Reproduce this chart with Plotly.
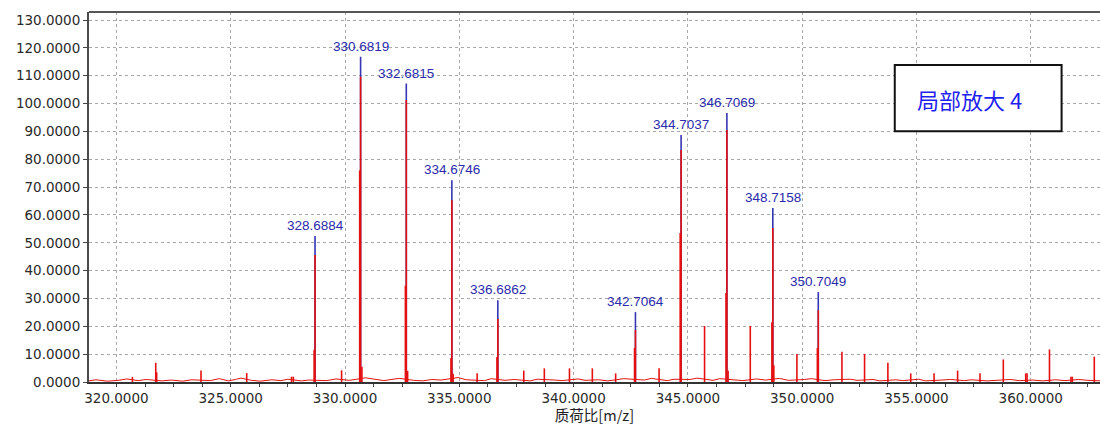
import plotly.graph_objects as go

# Labelled centroid peaks: m/z, centroid intensity, profile apex, left shoulder
peak_mz = [328.6884, 330.6819, 332.6815, 334.6746, 336.6862,
           342.7064, 344.7037, 346.7069, 348.7158, 350.7049]
peak_centroid = [52.4, 116.8, 107.2, 72.5, 29.4, 25.1, 88.7, 96.6, 62.5, 32.3]
peak_apex = [45.6, 109.6, 101.3, 65.3, 22.6, 18.7, 83.3, 90.5, 55.3, 25.8]
peak_shoulder = [11.5, 76.0, 34.6, 8.6, 9.0, 12.2, 53.5, 32.0, 21.5, 12.2]

# Smaller unlabelled peaks
minor_mz = [320.70, 321.72, 321.76, 323.70, 325.70, 327.66, 327.74, 329.85,
            330.74, 332.74, 334.73, 335.78, 337.82, 338.72, 339.82, 340.82,
            341.84, 343.74, 345.73, 346.76, 347.73, 348.76, 349.77, 351.74,
            352.73, 353.75, 354.75, 355.77, 356.80, 357.78, 358.80, 359.78,
            359.84, 360.82, 361.76, 361.82, 362.78]
minor_int = [1.8, 6.9, 3.5, 4.1, 3.2, 1.9, 1.9, 4.2,
             5.5, 4.0, 3.0, 3.1, 4.1, 4.9, 4.9, 4.9,
             3.1, 4.9, 20.1, 4.0, 20.1, 6.0, 10.1, 10.9,
             10.1, 6.9, 3.1, 3.1, 4.1, 3.1, 8.1, 3.1,
             3.1, 11.7, 1.9, 1.9, 9.1]

# Low-level baseline noise
noise_mz = [318.8, 319.1, 319.6, 320.1, 320.45, 320.95, 321.3, 322.0, 322.4,
            322.9, 323.3, 324.1, 324.5, 324.9, 325.2, 325.45, 325.9, 326.3,
            326.8, 327.2, 327.5, 328.1, 328.4, 329.2, 329.6, 330.2, 330.9,
            331.3, 331.7, 332.1, 332.4, 333.0, 333.4, 333.8, 334.2, 334.95,
            335.3, 336.1, 336.4, 337.0, 337.4, 338.1, 338.4, 339.2, 339.5,
            340.2, 340.5, 341.1, 341.5, 342.2, 343.1, 343.4, 344.1, 344.4,
            345.1, 345.4, 346.1, 346.4, 347.1, 347.4, 348.0, 348.4, 349.0,
            349.4, 350.1, 350.4, 351.0, 351.4, 352.1, 352.4, 353.1, 353.4,
            354.1, 354.4, 355.1, 355.4, 356.1, 356.5, 357.1, 357.4, 358.1,
            358.5, 359.1, 359.5, 360.1, 360.5, 361.1, 361.5, 362.1, 362.5, 363.1]
noise_int = [0.4, 0.8, 0.3, 0.6, 1.1, 0.5, 0.9, 0.4, 0.7,
             0.3, 0.8, 0.5, 1.2, 0.4, 0.9, 1.4, 0.6, 0.3,
             0.8, 0.5, 1.0, 0.4, 0.7, 0.5, 1.1, 0.6, 1.5,
             0.9, 0.5, 1.0, 1.3, 0.6, 0.4, 0.9, 0.7, 1.6,
             0.8, 0.5, 1.2, 0.6, 0.9, 0.4, 1.0, 0.7, 0.5,
             1.1, 0.6, 0.8, 0.4, 1.2, 0.7, 1.3, 0.5, 1.0,
             0.9, 1.4, 0.6, 1.2, 0.8, 0.5, 1.1, 0.7, 1.3,
             0.6, 0.9, 1.2, 0.5, 0.8, 1.0, 0.6, 0.9, 0.4,
             0.8, 0.5, 1.0, 0.4, 0.7, 0.9, 0.5, 0.8, 0.4,
             0.6, 0.9, 0.5, 0.7, 0.4, 0.8, 0.5, 0.9, 0.6, 0.4]

y_ticks = [0, 10, 20, 30, 40, 50, 60, 70, 80, 90, 100, 110, 120, 130]
x_ticks = [320, 325, 330, 335, 340, 345, 350, 355, 360]

RED = "#e41010"
BLUE = "#3535b5"
LABEL_BLUE = "#2b2bab"
SHOULDER_OFFSET = 0.04


def sticks(xs, ys):
    """Vertical sticks from the baseline, separated by gaps."""
    sx, sy = [], []
    for x, y in zip(xs, ys):
        sx += [x, x, None]
        sy += [0, y, None]
    return sx, sy


fig = go.Figure()

# centroid sticks (blue), partly covered by the profile peaks
bx, by = sticks(peak_mz, peak_centroid)
fig.add_trace(go.Scatter(x=bx, y=by, mode="lines",
                         line=dict(color=BLUE, width=1.6),
                         hoverinfo="skip", showlegend=False))

# baseline noise
fig.add_trace(go.Scatter(x=noise_mz, y=noise_int, mode="lines",
                         line=dict(color=RED, width=1),
                         hoverinfo="skip", showlegend=False))

# profile peaks: apex plus left shoulder
rx, ry = sticks(peak_mz, peak_apex)
shx, shy = sticks([m - SHOULDER_OFFSET for m in peak_mz], peak_shoulder)
mx, my = sticks(minor_mz, minor_int)
fig.add_trace(go.Scatter(x=rx + shx + mx, y=ry + shy + my, mode="lines",
                         line=dict(color=RED, width=1.6),
                         hoverinfo="skip", showlegend=False))

for mz, h in zip(peak_mz, peak_centroid):
    fig.add_annotation(x=mz, y=h, text=f"{mz:.4f}", showarrow=False,
                       xanchor="center", yanchor="bottom", yshift=1,
                       font=dict(family="Liberation Sans, Arial", size=13.5,
                                 color=LABEL_BLUE))

# boxed caption in the upper right
fig.add_shape(type="rect", xref="paper", yref="paper",
              x0=0.797, x1=0.962, y0=0.678, y1=0.857,
              line=dict(color="#111111", width=2), fillcolor="white",
              layer="above")
fig.add_annotation(xref="paper", yref="paper", x=0.871, y=0.766,
                   text="局部放大 4", showarrow=False,
                   xanchor="center", yanchor="middle",
                   font=dict(family="Noto Sans CJK SC", size=22,
                             color="#1f1ff0"))

# frame along the top edge
fig.add_shape(type="line", xref="paper", yref="paper",
              x0=0, x1=1, y0=1, y1=1,
              line=dict(color="#555555", width=2))

tick_font = dict(family="DejaVu Sans", size=13.5, color="#2a2a2a")

fig.update_layout(
    width=1100, height=425,
    margin=dict(l=89, r=0, t=12, b=43),
    paper_bgcolor="white", plot_bgcolor="white",
    xaxis=dict(
        range=[318.8, 363.03],
        tickvals=x_ticks,
        ticktext=[f"{v:.4f}" for v in x_ticks],
        tickfont=tick_font,
        ticks="outside", ticklen=3, tickcolor="#444444",
        minor=dict(dtick=1.25, tick0=320, ticks="outside", ticklen=3,
                   tickcolor="#444444", showgrid=False),
        showgrid=True, gridcolor="#a8a8a8", griddash="3px,3px", gridwidth=1,
        showline=True, linecolor="#333333", linewidth=2,
        zeroline=False, layer="above traces",
        title=dict(text="质荷比[m/z]", standoff=0,
                   font=dict(family="Noto Sans CJK SC", size=14.5,
                             color="#222222")),
    ),
    yaxis=dict(
        range=[0, 132.9],
        tickvals=y_ticks,
        ticktext=[f"{v:.4f}" for v in y_ticks],
        tickfont=tick_font,
        ticks="outside", ticklen=4, tickcolor="#444444",
        showgrid=True, gridcolor="#a8a8a8", griddash="3px,3px", gridwidth=1,
        showline=True, linecolor="#4a4a4a", linewidth=2,
        zeroline=False, layer="above traces",
    ),
)

fig.write_html("out.html")
